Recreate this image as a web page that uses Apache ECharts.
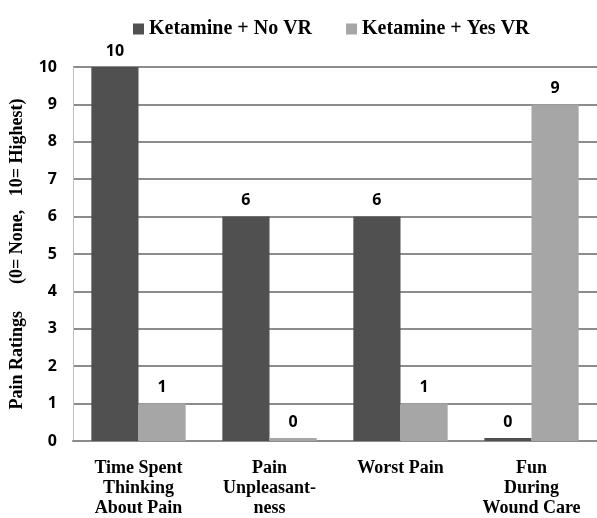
<!DOCTYPE html>
<html>
<head>
<meta charset="utf-8">
<script src="https://cdn.jsdelivr.net/npm/echarts@6/dist/echarts.min.js"></script>
<style>
  html, body { margin: 0; padding: 0; background: #fff; }
  #chart { width: 597px; height: 518px; }
</style>
</head>
<body>
<div id="chart"></div>
<script>
const categories = ['Time Spent\nThinking\nAbout Pain', 'Pain\nUnpleasant-\nness', 'Worst Pain', 'Fun\nDuring\nWound Care']
const noVR = [10, 6, 6, 0]
const yesVR = [1, 0, 1, 9]
const seriesNames = ['Ketamine + No VR', 'Ketamine + Yes VR']

const serif = '"Liberation Serif", "DejaVu Serif", serif'
const sans = '"Open Sans", "DejaVu Sans", sans-serif'

const chart = echarts.init(document.getElementById('chart'))

const labelStyle = {
  show: true,
  position: 'top',
  color: '#000',
  fontFamily: sans,
  fontWeight: 'bold',
  fontSize: 16,
  distance: 8
}

chart.setOption({
  animation: false,
  legend: {
    top: 14,
    left: 128,
    itemWidth: 11,
    itemHeight: 11,
    itemGap: 34,
    icon: 'rect',
    textStyle: { fontFamily: serif, fontWeight: 'bold', fontSize: 20, color: '#000' },
    data: seriesNames
  },
  grid: { left: 73, right: 0, top: 67, bottom: 77 },
  xAxis: {
    type: 'category',
    data: categories,
    axisLine: { show: true, lineStyle: { color: '#8c8c8c', width: 2 } },
    axisTick: { show: false },
    axisLabel: {
      color: '#000',
      fontFamily: serif,
      fontWeight: 'bold',
      fontSize: 18,
      lineHeight: 20,
      margin: 17,
      interval: 0
    }
  },
  yAxis: {
    type: 'value',
    min: 0,
    max: 10,
    interval: 1,
    name: 'Pain Ratings      (0= None,   10= Highest)',
    nameLocation: 'middle',
    nameGap: 47,
    nameTextStyle: { fontFamily: serif, fontWeight: 'bold', fontSize: 18, color: '#000' },
    axisLine: { show: true, lineStyle: { color: '#bfbfbf', width: 1 } },
    axisTick: { show: false },
    axisLabel: { color: '#000', fontFamily: sans, fontWeight: 'bold', fontSize: 16, margin: 16 },
    splitLine: { lineStyle: { color: '#8c8c8c', width: 2 } }
  },
  series: [
    {
      name: seriesNames[0],
      type: 'bar',
      data: noVR,
      barWidth: '36%',
      barGap: '0%',
      barMinHeight: 3,
      itemStyle: { color: '#505050' },
      label: labelStyle
    },
    {
      name: seriesNames[1],
      type: 'bar',
      data: yesVR,
      barWidth: '36%',
      barGap: '0%',
      barMinHeight: 3,
      itemStyle: { color: '#a6a6a6' },
      label: labelStyle
    }
  ]
})
</script>
</body>
</html>
